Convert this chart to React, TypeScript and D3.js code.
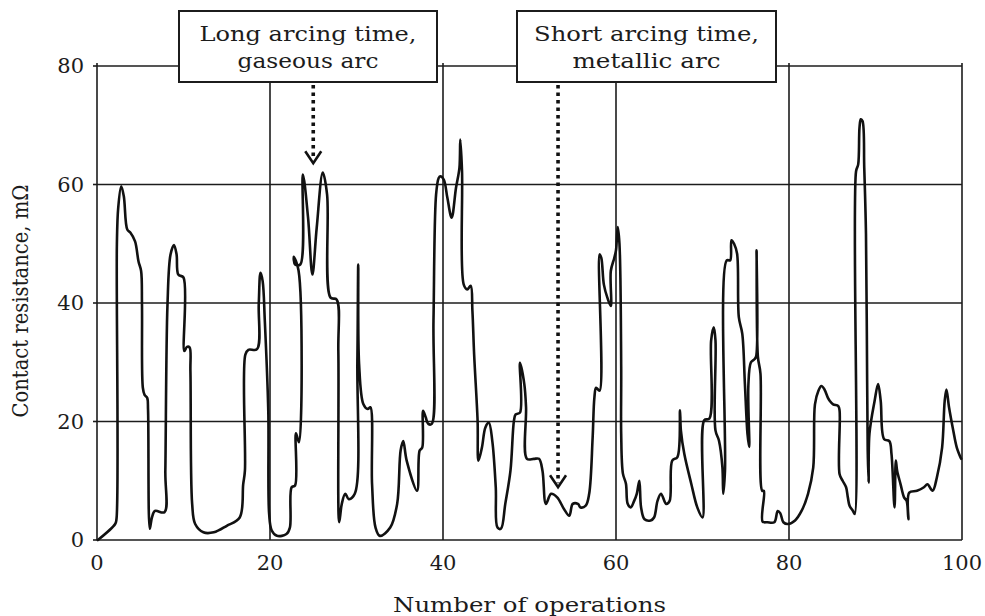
import React from 'react';
import * as d3 from 'd3';

const opsX: number[] = [
  0.1, 2.1, 2.25, 2.3, 2.45, 2.8, 3.1, 3.5, 3.85, 4.4, 4.8, 5.1, 5.2, 5.3, 5.5, 5.8, 5.9, 6.1, 6.35, 6.7,
  7.8, 7.9, 8.15, 8.5, 8.9, 9.2, 9.4, 10.0, 10.1, 10.4, 10.7, 10.8, 11.0, 11.35, 12.3, 13.5, 15.0, 16.5, 16.9, 17.1,
  17.15, 17.5, 18.5, 18.7, 18.9, 19.15, 19.4, 19.8, 19.9, 20.2, 20.8, 21.9, 22.3, 22.5, 22.9, 23.0, 23.35, 23.3, 22.75, 22.9,
  23.5, 23.8, 24.4, 24.9, 25.4, 26.1, 26.6, 27.0, 27.7, 27.9, 28.0, 28.3, 28.7, 29.1, 29.8, 30.1, 30.2, 30.3, 30.8, 31.3,
  31.6, 31.8, 32.2, 32.7, 33.9, 34.7, 35.1, 35.4, 35.8, 37.0, 37.3, 37.6, 37.7, 38.0, 38.3, 38.7, 38.9, 39.2, 39.5, 39.7,
  40.1, 40.5, 41.0, 41.5, 41.9, 42.0, 42.2, 42.4, 42.8, 43.2, 43.4, 43.6, 44.0, 44.1, 44.5, 44.9, 45.3, 45.7, 46.1, 46.3,
  46.7, 47.2, 47.8, 48.2, 48.4, 48.9, 48.9, 49.4, 49.6, 49.7, 50.5, 51.1, 51.5, 51.9, 52.5, 53.2, 54.0, 54.6, 55.0, 55.6,
  55.9, 56.5, 56.9, 57.3, 57.5, 57.7, 58.1, 58.1, 58.3, 58.6, 59.0, 59.4, 59.4, 59.8, 60.0, 60.2, 60.4, 60.6, 60.6, 60.8,
  61.15, 61.35, 61.7, 62.1, 62.4, 62.7, 62.9, 63.3, 64.0, 64.4, 64.8, 65.2, 65.8, 66.2, 66.5, 67.1, 67.4, 67.5, 67.9, 68.7,
  69.4, 70.0, 70.2, 70.8, 71.0, 71.3, 71.5, 71.5, 71.9, 72.3, 72.4, 72.6, 72.8, 73.2, 73.35, 73.65, 74.0, 74.2, 74.6, 74.9,
  75.2, 75.4, 75.3, 75.6, 76.0, 76.2, 76.25, 76.4, 76.7, 76.9, 77.1, 76.95, 77.5, 78.3, 78.7, 79.0, 79.35, 79.9, 80.7, 81.45,
  82.2, 82.8, 83.0, 83.4, 83.75, 84.1, 84.5, 84.7, 85.1, 85.7, 85.85, 85.85, 86.2, 86.6, 86.8, 87.0, 87.4, 87.6, 87.75, 88.0,
  88.15, 88.3, 88.5, 88.7, 88.9, 89.0, 89.1, 89.2, 89.3, 89.9, 90.3, 90.6, 91.0, 91.6, 91.85, 92.2, 92.35, 92.5, 92.9, 93.3,
  93.6, 93.8, 93.9, 94.8, 95.6, 96.0, 96.6, 97.1, 97.7, 98.0, 98.2, 98.5, 99.0, 99.4, 99.9,
];

const resistanceY: number[] = [
  0, 2.7, 3.5, 50, 56, 59.7, 58, 52.4, 51.9, 50.4, 47, 45.4, 39.8, 25.7, 24.5, 24, 22, 1.9, 3.8, 4.9,
  4.7, 11.7, 39.8, 48.2, 49.8, 48.2, 44.8, 44.3, 31.9, 32.6, 32.5, 28.5, 6.1, 2.7, 1.3, 1.3, 2.4, 3.8, 9.4, 11.7,
  31.3, 32.1, 32.2, 39.8, 45.1, 43.7, 37, 21.8, 4.4, 1.6, 0.7, 1.0, 2.1, 8.9, 9.2, 18, 16.5, 45.5, 47.8, 46.5,
  46.5, 61.7, 54.4, 44.8, 52.7, 62, 58.3, 40.9, 40.6, 31.9, 3, 6.1, 7.8, 6.9, 7.8, 30.2, 46.5, 29.7, 22.9, 22.1,
  22.4, 9.4, 2.1, 0.7, 2.1, 6.1, 15.1, 16.7, 13.4, 8.3, 15.1, 15.6, 21.8, 20.7, 19.6, 19.6, 37, 58.3, 61.1, 61.4,
  60.8, 57.8, 54.4, 59.4, 62.8, 67.6, 62.2, 43.1, 42.3, 42.9, 38.7, 31.3, 20.1, 13.4, 15.6, 19, 19.8, 16.7, 8.9, 2.1,
  1.9, 6.1, 11.7, 20.1, 21.2, 21.5, 29.9, 26.3, 22.4, 13.7, 13.7, 13.7, 11.7, 6.1, 7.8, 7.2, 5.2, 4.1, 6.1, 6.1,
  5.5, 5.8, 7.8, 17.3, 24, 25.7, 25.2, 48.2, 47.6, 43.1, 40.9, 39.5, 45.4, 47.6, 48.9, 52.8, 50, 29.2, 17.9, 11.2,
  9.5, 6.1, 5.5, 6.6, 7.8, 10, 5.5, 3.5, 3.3, 3.8, 6.6, 7.8, 6.1, 6.6, 13.4, 14, 21.9, 18.5, 14.5, 9.5,
  5.5, 3.8, 20.2, 20.5, 33.7, 35.9, 33.7, 18.5, 16.8, 12.3, 7.8, 11.7, 47.2, 47.2, 50.6, 50, 48.3, 37.6, 34.8, 26.4,
  17.9, 15.7, 26, 30, 30.5, 31, 48.9, 31, 28.1, 8.3, 8.3, 3.1, 3, 3, 4.9, 4.5, 3.0, 2.7, 3.3, 4.9,
  7.8, 12.2, 22.9, 25.2, 26, 25.4, 24, 23.5, 22.9, 22.6, 21.8, 11.1, 10, 8.9, 7.2, 5.8, 4.9, 4.4, 62.2, 63.4,
  69.6, 71, 70.7, 62.8, 51.6, 34.7, 15.1, 9.7, 17.9, 23.5, 26.3, 23.5, 17, 16.7, 14.5, 5.5, 13.4, 11.7, 9.4, 7.2,
  6.6, 3.5, 8, 8.3, 8.9, 9.4, 8.3, 10.6, 15.6, 23.5, 25.4, 22.4, 18.4, 15.6, 13.7,
];

const xTicks: number[] = [0, 20, 40, 60, 80, 100];
const yTicks: number[] = [0, 20, 40, 60, 80];
const xTitle = 'Number of operations';
const yTitle = 'Contact resistance, mΩ';
const annotationLines: string[][] = [
  ['Long arcing time,', 'gaseous arc'],
  ['Short arcing time,', 'metallic arc'],
];
const arrowOps: number[] = [25, 53.3];
const arrowTipValues: number[] = [63.6, 8.9];

const FONT = '"DejaVu Serif", "Liberation Serif", serif';
const INK = '#1c1c1c';

export default function App() {
  const W = 985;
  const H = 616;
  const left = 97, right = 962, top = 66, bottom = 540;
  const x = d3.scaleLinear().domain([0, 100]).range([left, right]);
  const y = d3.scaleLinear().domain([0, 80]).range([bottom, top]);

  const pts: [number, number][] = opsX.map((v, i) => [v, resistanceY[i]]);
  const line = d3
    .line<[number, number]>()
    .x((d) => x(d[0]))
    .y((d) => y(d[1]))
    .curve(d3.curveCatmullRom.alpha(0.5));

  const boxes = [
    { x0: 179, x1: 437, widths: [217, 141] },
    { x0: 517, x1: 776, widths: [225, 148] },
  ];
  const boxTop = 11, boxBottom = 82;

  return (
    <svg
      width={W}
      height={H}
      style={{ position: 'absolute', left: 0, top: 0, background: '#fff' }}
      fontFamily={FONT}
    >
      <rect x={0} y={0} width={W} height={H} fill="#fff" />
      {yTicks.map((t) => (
        <g key={'gy' + t}>
          <line x1={left} x2={right} y1={y(t)} y2={y(t)} stroke={INK} strokeWidth={1.6} />
          <line x1={left - 4} x2={left} y1={y(t)} y2={y(t)} stroke={INK} strokeWidth={1.6} />
        </g>
      ))}
      {xTicks.map((t) => (
        <line
          key={'gx' + t}
          x1={x(t)}
          x2={x(t)}
          y1={top - 3}
          y2={bottom}
          stroke={INK}
          strokeWidth={1.6}
        />
      ))}
      <path
        d={line(pts) || ''}
        fill="none"
        stroke="#111"
        strokeWidth={2.6}
        strokeLinejoin="round"
        strokeLinecap="round"
      />
      {yTicks.map((t) => (
        <text key={'ly' + t} x={left - 13} y={y(t) + 7} fontSize={21} textAnchor="end" fill={INK}>
          {t}
        </text>
      ))}
      {xTicks.map((t) => (
        <text key={'lx' + t} x={x(t)} y={570} fontSize={21} textAnchor="middle" fill={INK}>
          {t}
        </text>
      ))}
      <text
        x={(left + right) / 2}
        y={612}
        fontSize={20}
        textAnchor="middle"
        fill={INK}
        textLength={273}
        lengthAdjust="spacingAndGlyphs"
      >
        {xTitle}
      </text>
      <text
        transform={`translate(28, 301) scale(1.2, 1) rotate(-90)`}
        fontSize={18}
        textAnchor="middle"
        fill={INK}
        textLength={233}
        lengthAdjust="spacingAndGlyphs"
      >
        {yTitle}
      </text>
      {arrowOps.map((a, i) => {
        const ax = x(a);
        const tip = y(arrowTipValues[i]);
        return (
          <g key={'ar' + i}>
            <line
              x1={ax}
              x2={ax}
              y1={boxBottom + 3}
              y2={tip - 4}
              stroke="#111"
              strokeWidth={3.6}
              strokeDasharray="3.5 4"
            />
            <polyline
              points={`${ax - 8},${tip - 12} ${ax},${tip} ${ax + 8},${tip - 12}`}
              fill="none"
              stroke="#111"
              strokeWidth={2.6}
            />
          </g>
        );
      })}
      {boxes.map((b, i) => {
        const cx = (b.x0 + b.x1) / 2;
        return (
          <g key={'bx' + i}>
            <rect
              x={b.x0}
              y={boxTop}
              width={b.x1 - b.x0}
              height={boxBottom - boxTop}
              fill="#fff"
              stroke={INK}
              strokeWidth={2}
            />
            {annotationLines[i].map((s, j) => (
              <text
                key={j}
                x={cx}
                y={41 + j * 27}
                fontSize={21}
                textAnchor="middle"
                fill={INK}
                textLength={b.widths[j]}
                lengthAdjust="spacingAndGlyphs"
              >
                {s}
              </text>
            ))}
          </g>
        );
      })}
    </svg>
  );
}
